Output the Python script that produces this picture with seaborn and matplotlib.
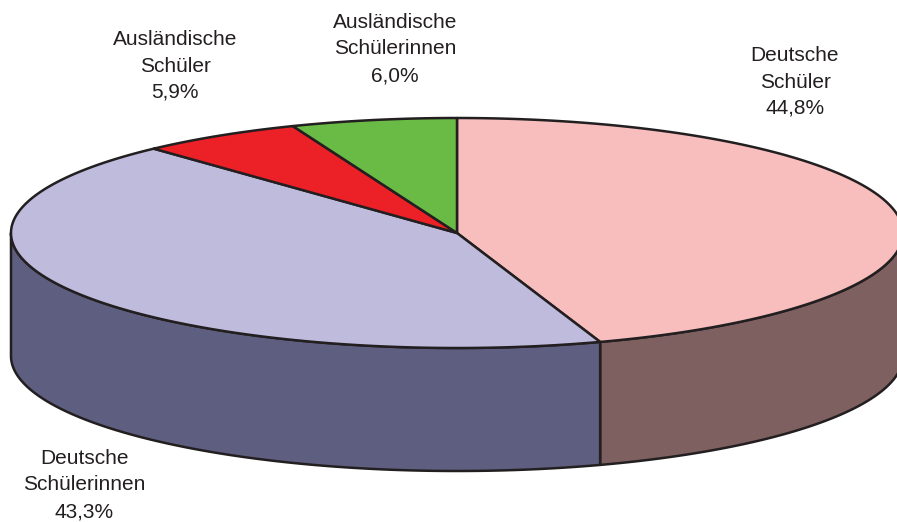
import numpy as np
import matplotlib
matplotlib.use("Agg")
import matplotlib.pyplot as plt
import seaborn as sns

# ---- data ----
categories = ["Deutsche\nSchüler", "Deutsche\nSchülerinnen", "Ausländische\nSchüler", "Ausländische\nSchülerinnen"]
values = [44.8, 43.3, 5.9, 6.0]
value_labels = ["44,8%", "43,3%", "5,9%", "6,0%"]
top_colors = ["#F8BEBE", "#BFBBDD", "#EC2027", "#6ABB45"]
side_colors = ["#7F6060", "#5E5E80", "#9A1518", "#447A2C"]

sns.set_theme(style="white")
plt.rcParams['font.family'] = ['Liberation Sans', 'DejaVu Sans']

W, H = 897, 522
fig = plt.figure(figsize=(W / 100, H / 100), dpi=100)
ax = fig.add_axes([0, 0, 1, 1])
ax.set_xlim(0, W)
ax.set_ylim(H, 0)
ax.axis("off")

cx, cy = 457, 233
a, b = 446, 115
depth = 123
edge = "#231F20"
lw = 1.8


def pt(theta_deg, dy=0.0):
    t = np.radians(theta_deg)
    return cx + a * np.cos(t), cy - b * np.sin(t) + dy


fracs = np.array(values) / np.sum(values)
starts = []
ends = []
ang = 90.0
for f in fracs:
    starts.append(ang)
    ang -= f * 360
    ends.append(ang)

# sides (visible where the rim faces the viewer: angles 180..360)
for s, e, sc in zip(starts, ends, side_colors):
    lo, hi = e, s
    segs = []
    for off in (-360, 0, 360):
        l2, h2 = lo + off, hi + off
        L, R = max(l2, 180), min(h2, 360)
        if R > L:
            segs.append((L, R))
    for L, R in segs:
        th = np.linspace(L, R, 200)
        xs_t, ys_t = pt(th)
        xs_b, ys_b = pt(th[::-1], depth)
        xs = np.concatenate([xs_t, xs_b])
        ys = np.concatenate([ys_t, ys_b])
        ax.fill(xs, ys, facecolor=sc, edgecolor=edge, linewidth=lw, joinstyle="round", zorder=1)

# top faces
for s, e, tc in zip(starts, ends, top_colors):
    th = np.linspace(s, e, 300)
    xs, ys = pt(th)
    xs = np.concatenate([[cx], xs, [cx]])
    ys = np.concatenate([[cy], ys, [cy]])
    ax.fill(xs, ys, facecolor=tc, edgecolor=edge, linewidth=lw, joinstyle="round", zorder=2)

# labels
label_pos = [(795, 82), (84, 485), (175, 66), (395, 49)]
for cat, vl, (lx, ly) in zip(categories, value_labels, label_pos):
    ax.text(lx, ly, f"{cat}\n{vl}", ha="center", va="center", fontsize=15,
            color="#231F20", linespacing=1.5, zorder=5)

fig.savefig("out.png", dpi=100)
